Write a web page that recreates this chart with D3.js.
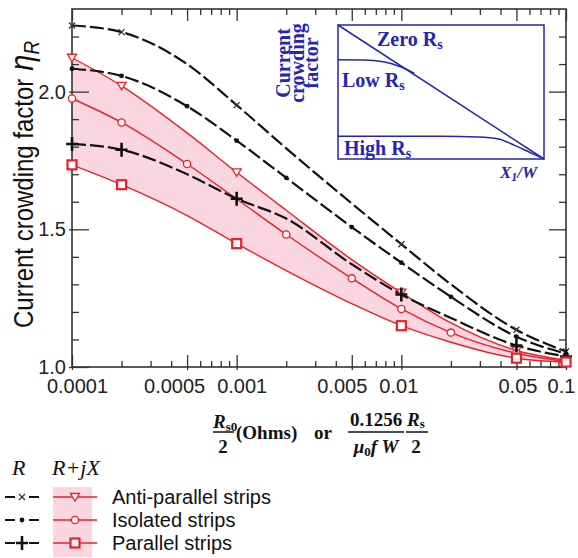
<!DOCTYPE html>
<html>
<head>
<meta charset="utf-8">
<script src="https://cdn.jsdelivr.net/npm/d3@7"></script>
<style>
  body { margin: 0; background: #fff; }
  svg { display: block; }
</style>
</head>
<body>
<div id="viz-wrapper"></div>
<script>
var width = 578;
var height = 558;

// Frequency / sheet resistance values along the x axis
var xVals = [0.0001, 0.0002, 0.0005, 0.001, 0.002, 0.005, 0.01, 0.02, 0.05, 0.1];

// R only (black dashed)
var rAnti = [2.24, 2.216, 2.10, 1.951, 1.794, 1.594, 1.446, 1.30, 1.135, 1.056];
var rIso  = [2.083, 2.057, 1.947, 1.822, 1.687, 1.508, 1.379, 1.255, 1.11, 1.048];
var rPar  = [1.81, 1.789, 1.70, 1.611, 1.539, 1.373, 1.263, 1.178, 1.078, 1.038];

// R+jX (red)
var zAnti = [2.123, 2.021, 1.85, 1.707, 1.569, 1.390, 1.27, 1.16, 1.06, 1.025];
var zIso  = [1.975, 1.888, 1.737, 1.61, 1.481, 1.322, 1.211, 1.125, 1.05, 1.02];
var zPar  = [1.734, 1.662, 1.55, 1.448, 1.35, 1.23, 1.150, 1.09, 1.032, 1.018];

// where markers sit on each curve
var rAntiMarks = [0.0001, 0.0002, 0.001, 0.01, 0.05, 0.1];
var rIsoMarks  = xVals;
var rParMarks  = [0.0001, 0.0002, 0.001, 0.01, 0.05, 0.1];
var zAntiMarks = [0.0001, 0.0002, 0.001, 0.01, 0.05, 0.1];
var zIsoMarks  = [0.0001, 0.0002, 0.0005, 0.002, 0.005, 0.01, 0.02, 0.05, 0.1];
var zParMarks  = [0.0001, 0.0002, 0.001, 0.01, 0.05, 0.1];

// ticks
var xMajor = [0.0001, 0.0005, 0.001, 0.005, 0.01, 0.05, 0.1];
var xMajorLabels = ['0.0001', '0.0005', '0.001', '0.005', '0.01', '0.05', '0.1'];
var xLabelNudge = [5, -13, 5, -10, -3, 1, -5];
var yMajor = [1.0, 1.5, 2.0];
var yMajorLabels = ['1.0', '1.5', '2.0'];

// inset sketch (unitless, 0..1 both ways)
var insetZero = [[0, 1], [1, 0]];
var insetLow  = [[0, 0.74], [0.12, 0.738], [0.22, 0.725], [0.3, 0.69], [0.37, 0.64]];
var insetHigh = [[0, 0.17], [0.5, 0.17], [0.68, 0.165], [0.78, 0.15], [0.86, 0.1], [0.93, 0.05], [1, 0]];

var legendNames = ['Anti-parallel strips', 'Isolated strips', 'Parallel strips'];

var RED = '#e8212b';
var PINK = '#fad6e0';
var BLUE = '#2525b5';
var SANS = '"Liberation Sans", Arial, sans-serif';
var SERIF = '"Liberation Serif", "Times New Roman", serif';

var viz = d3.select('#viz-wrapper').append('svg')
  .attr('width', width).attr('height', height);

var x = d3.scaleLog().domain([0.0001, 0.1]).range([72, 566]);
var y = d3.scaleLinear().domain([1.0, 2.3]).range([367, 9]);

var xMinor = [];
[0.0001, 0.001, 0.01].forEach(function(d) {
  for (var k = 2; k <= 9; k++) xMinor.push(d * k);
});
xMinor = xMinor.filter(function(v) { return xMajor.indexOf(+v.toPrecision(3)) < 0; });
var yMinor = d3.range(1.1, 2.3, 0.1).filter(function(v) { return Math.abs(v - 1.5) > 0.01 && Math.abs(v - 2.0) > 0.01; });

// pink band between red anti-parallel and red parallel
var band = d3.area()
  .x(function(d, i) { return x(xVals[i]); })
  .y0(function(d, i) { return y(zPar[i]); })
  .y1(function(d) { return y(d); })
  .curve(d3.curveMonotoneX);
viz.append('path').datum(zAnti).attr('d', band).attr('fill', PINK);

// axes ticks (inward)
function styleAxis(g) {
  g.select('.domain').remove();
  g.selectAll('.tick line').attr('stroke', '#333').attr('stroke-width', 1.3);
}
viz.append('g').attr('transform', 'translate(0,367)')
  .call(d3.axisBottom(x).tickValues(xMinor).tickSize(-6).tickFormat(''))
  .call(styleAxis);
viz.append('g').attr('transform', 'translate(0,367)')
  .call(d3.axisBottom(x).tickValues(xMajor).tickSize(-12).tickPadding(12)
    .tickFormat(function(d, i) { return xMajorLabels[i]; }))
  .call(styleAxis)
  .call(function(g) {
    g.selectAll('.tick line').attr('y1', 3);
    g.selectAll('.tick text').attr('font-family', SANS).attr('font-size', 20).attr('fill', '#222')
      .attr('dx', function(d, i) { return xLabelNudge[i]; });
  });
viz.append('g').attr('transform', 'translate(0,9)')
  .call(d3.axisTop(x).tickValues(xMinor).tickSize(-6).tickFormat(''))
  .call(styleAxis);
viz.append('g').attr('transform', 'translate(0,9)')
  .call(d3.axisTop(x).tickValues(xMajor).tickSize(-12).tickFormat(''))
  .call(styleAxis);

viz.append('g').attr('transform', 'translate(72,0)')
  .call(d3.axisLeft(y).tickValues(yMinor).tickSize(-7).tickFormat(''))
  .call(styleAxis);
viz.append('g').attr('transform', 'translate(72,0)')
  .call(d3.axisLeft(y).tickValues(yMajor).tickSize(-17).tickPadding(6)
    .tickFormat(function(d, i) { return yMajorLabels[i]; }))
  .call(styleAxis)
  .call(function(g) {
    g.selectAll('.tick line').attr('x1', -3);
    g.selectAll('.tick text').attr('font-family', SANS).attr('font-size', 20).attr('fill', '#222');
  });
viz.append('g').attr('transform', 'translate(566,0)')
  .call(d3.axisRight(y).tickValues(yMinor).tickSize(-7).tickFormat(''))
  .call(styleAxis);
viz.append('g').attr('transform', 'translate(566,0)')
  .call(d3.axisRight(y).tickValues(yMajor).tickSize(-17).tickFormat(''))
  .call(styleAxis);

viz.append('rect')
  .attr('x', x(0.0001)).attr('y', y(2.3))
  .attr('width', x(0.1) - x(0.0001)).attr('height', y(1.0) - y(2.3))
  .attr('fill', 'none').attr('stroke', '#333').attr('stroke-width', 1.6);

// curves
var line = d3.line()
  .x(function(d, i) { return x(xVals[i]); })
  .y(function(d) { return y(d); })
  .curve(d3.curveMonotoneX);

[zAnti, zIso, zPar].forEach(function(s) {
  viz.append('path').datum(s).attr('d', line)
    .attr('fill', 'none').attr('stroke', RED).attr('stroke-width', 1.4);
});
[rAnti, rIso, rPar].forEach(function(s) {
  viz.append('path').datum(s).attr('d', line)
    .attr('fill', 'none').attr('stroke', '#111').attr('stroke-width', 2.2)
    .attr('stroke-dasharray', '14,4');
});

// marker drawers
function drawMarker(g, kind, cx, cy) {
  if (kind === 'x') {
    g.append('path').attr('d', 'M' + (cx - 3) + ',' + (cy - 3) + 'L' + (cx + 3) + ',' + (cy + 3) +
      'M' + (cx - 3) + ',' + (cy + 3) + 'L' + (cx + 3) + ',' + (cy - 3))
      .attr('stroke', '#333').attr('stroke-width', 1.3);
  } else if (kind === 'dot') {
    g.append('circle').attr('cx', cx).attr('cy', cy).attr('r', 2.4).attr('fill', '#111');
  } else if (kind === 'plus') {
    g.append('path').attr('d', 'M' + (cx - 6) + ',' + cy + 'L' + (cx + 6) + ',' + cy +
      'M' + cx + ',' + (cy - 7) + 'L' + cx + ',' + (cy + 7))
      .attr('stroke', '#111').attr('stroke-width', 2.6);
  } else if (kind === 'tri') {
    g.append('path').attr('d', 'M' + (cx - 4.5) + ',' + (cy - 3.5) + 'L' + (cx + 4.5) + ',' + (cy - 3.5) +
      'L' + cx + ',' + (cy + 4) + 'Z')
      .attr('fill', '#fff').attr('stroke', RED).attr('stroke-width', 1.3);
  } else if (kind === 'circ') {
    g.append('circle').attr('cx', cx).attr('cy', cy).attr('r', 3.6)
      .attr('fill', '#fff').attr('stroke', RED).attr('stroke-width', 1.3);
  } else if (kind === 'sq') {
    g.append('rect').attr('x', cx - 4.5).attr('y', cy - 4.5).attr('width', 9).attr('height', 9)
      .attr('fill', '#fff').attr('stroke', RED).attr('stroke-width', 2.2);
  }
}

var markGroup = viz.append('g');
function markSeries(vals, marks, kind) {
  marks.forEach(function(m) {
    var i = xVals.indexOf(m);
    drawMarker(markGroup, kind, x(m), y(vals[i]));
  });
}
markSeries(zAnti, zAntiMarks, 'tri');
markSeries(zIso, zIsoMarks, 'circ');
markSeries(rAnti, rAntiMarks, 'x');
markSeries(rIso, rIsoMarks, 'dot');
markSeries(rPar, rParMarks, 'plus');
markSeries(zPar, zParMarks, 'sq');

// y axis title
var yt = viz.append('text')
  .attr('transform', 'translate(33,328) rotate(-90) scale(1,1.12)')
  .attr('font-family', SANS).attr('font-size', 24).attr('fill', '#111');
yt.append('tspan').text('Current crowding factor');
yt.append('tspan').attr('dx', 8).attr('font-style', 'italic').attr('font-size', 29).text('η');
yt.append('tspan').attr('dy', 5).attr('font-style', 'italic').attr('font-size', 19).text('R');

// x axis title (fractions)
var xl = viz.append('g').attr('font-family', SERIF).attr('font-weight', 'bold').attr('fill', '#111');
function frac(x0, x1) {
  xl.append('line').attr('x1', x0).attr('x2', x1).attr('y1', 432).attr('y2', 432)
    .attr('stroke', '#111').attr('stroke-width', 1.5);
}
var t1 = xl.append('text').attr('x', 213).attr('y', 428).attr('font-size', 19);
t1.append('tspan').attr('font-style', 'italic').text('R');
t1.append('tspan').attr('font-size', 13).attr('dy', 3).text('s0');
frac(213, 234);
xl.append('text').attr('x', 223).attr('y', 453).attr('font-size', 19).attr('text-anchor', 'middle').text('2');
xl.append('text').attr('x', 236).attr('y', 439).attr('font-size', 19).text('(Ohms)');
xl.append('text').attr('x', 314).attr('y', 439).attr('font-size', 19).text('or');
xl.append('text').attr('x', 376).attr('y', 426).attr('font-size', 19).attr('text-anchor', 'middle').text('0.1256');
frac(348, 404);
var t2 = xl.append('text').attr('x', 376).attr('y', 453).attr('font-size', 19).attr('text-anchor', 'middle');
t2.append('tspan').attr('font-style', 'italic').text('μ');
t2.append('tspan').attr('font-size', 13).attr('dy', 3).text('0');
t2.append('tspan').attr('font-style', 'italic').attr('dy', -3).text('f W');
var t3 = xl.append('text').attr('x', 407).attr('y', 426).attr('font-size', 19);
t3.append('tspan').attr('font-style', 'italic').text('R');
t3.append('tspan').attr('font-size', 13).attr('dy', 2).text('s');
frac(406, 428);
xl.append('text').attr('x', 416).attr('y', 453).attr('font-size', 19).attr('text-anchor', 'middle').text('2');

// inset
var ix = d3.scaleLinear().domain([0, 1]).range([338, 544]);
var iy = d3.scaleLinear().domain([0, 1]).range([159, 25]);
var inset = viz.append('g');
inset.append('rect').attr('x', 338).attr('y', 25).attr('width', 206).attr('height', 134)
  .attr('fill', '#fff').attr('stroke', BLUE).attr('stroke-width', 1.5);
var iline = d3.line().x(function(d) { return ix(d[0]); }).y(function(d) { return iy(d[1]); }).curve(d3.curveMonotoneX);
[insetZero, insetLow, insetHigh].forEach(function(s) {
  inset.append('path').datum(s).attr('d', iline).attr('fill', 'none')
    .attr('stroke', BLUE).attr('stroke-width', 1.5);
});
function insetLabel(tx, ty, main, sub) {
  var t = inset.append('text').attr('x', tx).attr('y', ty)
    .attr('font-family', SERIF).attr('font-weight', 'bold').attr('font-size', 20).attr('fill', BLUE);
  t.append('tspan').text(main);
  t.append('tspan').attr('font-size', 14).attr('dy', 3).text(sub);
}
insetLabel(377, 46, 'Zero R', 's');
insetLabel(342, 87, 'Low R', 's');
insetLabel(344, 155, 'High R', 's');
var xw = inset.append('text').attr('x', 500).attr('y', 178)
  .attr('font-family', SERIF).attr('font-weight', 'bold').attr('font-style', 'italic')
  .attr('font-size', 17).attr('fill', BLUE);
xw.append('tspan').text('X');
xw.append('tspan').attr('font-size', 12).attr('dy', 3).text('1');
xw.append('tspan').attr('dy', -3).text('/W');
['Current', 'crowding', 'factor'].forEach(function(w, i) {
  inset.append('text')
    .attr('transform', 'translate(' + (290 + i * 14) + ',63) rotate(-90)')
    .attr('text-anchor', 'middle')
    .attr('font-family', SERIF).attr('font-weight', 'bold').attr('font-size', 20)
    .attr('fill', BLUE).text(w);
});

// legend
var leg = viz.append('g');
var lh = leg.append('text').attr('y', 475).attr('font-family', SERIF).attr('font-style', 'italic')
  .attr('font-size', 22).attr('fill', '#111');
lh.append('tspan').attr('x', 12).text('R');
lh.append('tspan').attr('x', 52).text('R+jX');
leg.append('rect').attr('x', 53).attr('y', 487).attr('width', 39).attr('height', 70).attr('fill', PINK);
var blackKinds = ['x', 'dot', 'plus'];
var redKinds = ['tri', 'circ', 'sq'];
legendNames.forEach(function(name, i) {
  var ly = 497 + i * 23;
  leg.append('line').attr('x1', 5).attr('x2', 39).attr('y1', ly).attr('y2', ly)
    .attr('stroke', '#111').attr('stroke-width', 2.2).attr('stroke-dasharray', '10,14');
  drawMarker(leg, blackKinds[i], 22, ly);
  leg.append('line').attr('x1', 53).attr('x2', 97).attr('y1', ly).attr('y2', ly)
    .attr('stroke', RED).attr('stroke-width', 1.6);
  drawMarker(leg, redKinds[i], 75, ly);
  leg.append('text').attr('x', 112).attr('y', ly + 7)
    .attr('font-family', SANS).attr('font-size', 20).attr('fill', '#111').text(name);
});
</script>
</body>
</html>
